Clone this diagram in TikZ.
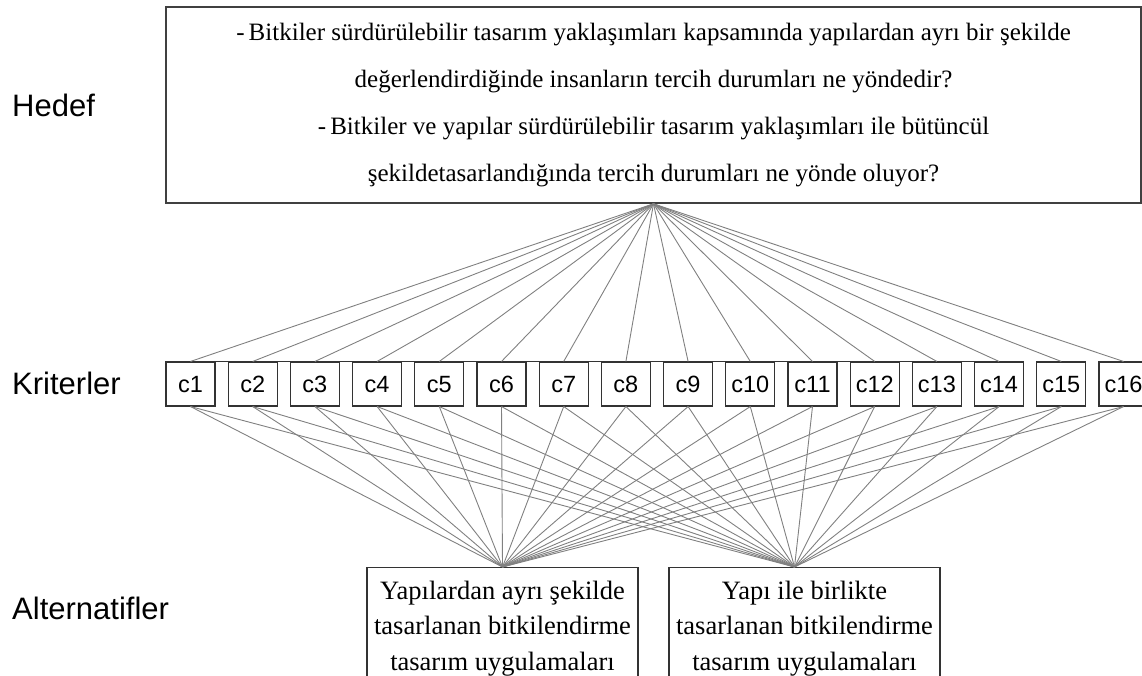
\documentclass[tikz,border=0pt]{standalone}
\usepackage{fontspec}
\setmainfont{Liberation Serif}
\newfontfamily\arial{Liberation Sans}
\usepackage{tikz}
\usetikzlibrary{positioning}
\usetikzlibrary{calc}
\tikzstyle{goalbox}=[rectangle,draw=black!75,line width=1.6pt,minimum width=975pt,minimum height=196pt,inner sep=0pt,align=center,font={\fontsize{25}{47}\selectfont}]
\tikzstyle{crit}=[rectangle,draw=black!80,line width=1.1pt,minimum width=49pt,minimum height=44pt,inner sep=0pt,text height=17pt,text depth=0pt,font={\arial\fontsize{23.5}{28}\selectfont}]
\tikzstyle{altbox}=[rectangle,draw=black!80,line width=1.3pt,minimum width=271pt,minimum height=122pt,inner sep=0pt,align=center,anchor=north,font={\fontsize{26.5}{35.5}\selectfont}]
\tikzstyle{level}=[anchor=west,inner sep=0pt,font={\arial\fontsize{31}{37}\selectfont}]
\tikzstyle{link}=[draw,black!50,line width=0.9pt]

\begin{document}
\begin{tikzpicture}[x=1pt,y=-1pt]
 \useasboundingbox (0,0) rectangle (1142,676);

 %levels
 \foreach \y/\name/\label in {105/hedef/Hedef, 383/kriter/Kriterler, 608/altern/Alternatifler}
   \node[level] (\name) at (12,\y) {\label};

 %goal
 \node[goalbox] (goal) at (653.5,105) {-\,Bitkiler sürdürülebilir tasarım yaklaşımları kapsamında yapılardan ayrı bir şekilde\\
   değerlendirdiğinde insanların tercih durumları ne yöndedir?\\
   -\,Bitkiler ve yapılar sürdürülebilir tasarım yaklaşımları ile bütüncül\\
   şekildetasarlandığında tercih durumları ne yönde oluyor?};

 %criteria
 \def\dx{190.5};
 \def\u{62.2};
 \foreach \i in {1,...,16}
   \node[crit] (c\i) at ({\dx+\u*(\i-1)},384) {c\i};
 \draw[black!80,line width=1.1pt] (c1.north west) -- (c14.north east);

 %alternatives
 \node[altbox] (alt1) at (502.5,567) {Yapılardan ayrı şekilde\\ tasarlanan bitkilendirme\\ tasarım uygulamaları};
 \node[altbox] (alt2) at (804.5,567) {Yapı ile birlikte\\ tasarlanan bitkilendirme\\ tasarım uygulamaları};
 \coordinate (a1) at (alt1.north);
 \coordinate (a2) at ($(alt2.north)+(-10,0)$);

 \foreach \i in {1,...,16}
   \path[link] (goal.south) -- (c\i.north);

 \foreach \i in {1,...,16}
   \foreach \dest in {a1,a2}
     \path[link] (c\i.south) -- (\dest);

\end{tikzpicture}
\end{document}
